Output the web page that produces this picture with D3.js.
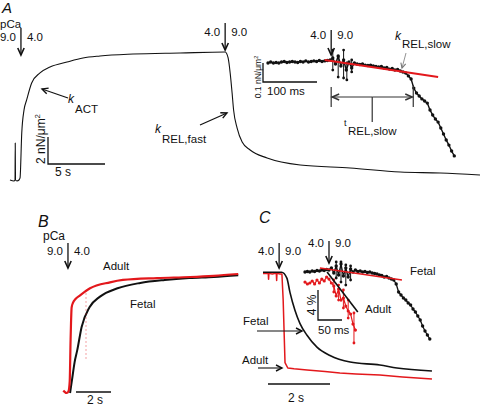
<!DOCTYPE html>
<html lang="en">
<head>
<meta charset="utf-8">
<title>Myofibril activation and relaxation</title>
<script src="https://cdn.jsdelivr.net/npm/d3@7"></script>
<style>
  body { margin: 0; background: #fff; }
  text { font-family: "Liberation Sans", Arial, sans-serif; fill: #111; }
</style>
</head>
<body>
<script>
// ---------- A: full activation / relaxation (time s, force nN/um2)
var aTime  = [0, 0.35, 0.44, 0.46, 0.48, 0.61, 0.79, 0.88, 1.03, 1.23, 1.46, 1.90, 2.63, 3.51, 5.0, 6.4, 7.89, 10.79, 14.91, 18.86,
              19.12, 19.3, 19.47, 19.6, 19.91, 20.35, 21.05, 22.54, 25.44, 29.82, 34.21, 37.72, 41.2];
var aForce = [0, -0.07, 0, 2.74, 0, -0.07, 0, 0.15, 3.48, 5.19, 5.93, 7.19, 7.93, 8.37, 8.74, 9.04, 9.19, 9.33, 9.41, 9.48,
              9.04, 7.93, 6.44, 5.19, 3.85, 2.81, 2.22, 1.63, 1.11, 0.89, 0.59, 0.52, 0.37];
var aSwitch = [0.96, 18.86];          // pCa 9.0 -> 4.0, then 4.0 -> 9.0

// ---------- A inset: start of relaxation, 5 ms samples, change in force (nN/um2)
var insADt = 5;
var insAForce = [0, 0.005, 0, 0.003, 0, 0.005, 0.008, 0.003, 0.005, 0.008, 0.005, 0.003, 0.008, 0.005, 0.011, 0.005,
                 0.008, 0.011, 0.008, 0.013, 0.008, 0.011, 0.013,
                 0.016, 0.026, -0.005, 0.037, -0.016, 0.016, -0.037, 0.005, -0.026, 0,
                 -0.005, -0.008, -0.005, -0.011, -0.013, -0.011, -0.016, -0.018, -0.021, -0.018, -0.026, -0.024,
                 -0.032, -0.029, -0.037, -0.034, -0.042,
                 -0.047, -0.053, -0.068, -0.084, -0.132, -0.158, -0.174, -0.189, -0.2, -0.211, -0.247, -0.274,
                 -0.295, -0.311, -0.342, -0.374, -0.405, -0.432, -0.463, -0.489];
var insAErrT  = [120, 130, 140, 146, 155];
var insAErrLo = [-0.037, -0.074, -0.079, -0.089, -0.047];
var insAErrHi = [0.068, 0.032, 0.068, 0, 0.016];
var insAFitT = [105, 315];
var insAFitF = [0.016, -0.074];
var insASwitch = 117;
var insATrel = [117, 269];            // t REL,slow bracket (ms)

// ---------- B: activation, normalised force
var bAdultT = [-0.1, 0.1, 0.2, 0.27, 0.32, 0.38, 0.46, 0.6, 0.86, 1.43, 2.57, 3.31, 5.26, 7.14, 8.5, 9.9];
var bAdultF = [0.02, 0, 0.015, 0.1, 0.45, 0.72, 0.76, 0.79, 0.82, 0.88, 0.93, 0.95, 0.966, 0.975, 0.985, 1.0];
var bFetalT = [0.29, 0.4, 0.55, 0.7, 0.95, 1.4, 2.0, 3.0, 4.3, 5.7, 7.1, 8.5, 9.9];
var bFetalF = [0, 0.11, 0.26, 0.36, 0.555, 0.72, 0.81, 0.88, 0.925, 0.95, 0.966, 0.975, 0.99];
var bSwitch = 0.17;
var bAdultMarkT = 1.2, bAdultMarkF = [0.29, 0.85];

// ---------- C: relaxation, normalised force
var cAdultT = [0, 0.1, 0.17, 0.18, 0.19, 0.3, 0.4, 0.43, 0.44, 0.45, 0.55, 0.61, 0.65, 0.71, 0.8, 1.0, 1.42, 2.0, 2.48, 3.0, 3.77, 4.5, 5.45];
var cAdultF = [0.98, 0.98, 0.98, 0.93, 0.98, 0.975, 0.98, 0.98, 0.92, 0.98, 0.975, 0.975, 0.76, 0.23, 0.185, 0.178, 0.168,
               0.155, 0.143, 0.135, 0.126, 0.11, 0.092];
var cFetalT = [0, 0.3, 0.6, 0.77, 0.87, 1.03, 1.19, 1.42, 1.74, 2.16, 2.81, 3.77, 4.32, 5.45];
var cFetalF = [0.99, 0.99, 0.99, 0.94, 0.82, 0.67, 0.56, 0.46, 0.36, 0.29, 0.235, 0.21, 0.185, 0.16];
var cSwitch = 0.52;

// ---------- C inset: 5 ms samples, force in % of maximum
var insCDt = 5;
var insCFetal = [99.87, 99.93, 99.87, 100, 99.93, 100.07, 100, 100.13, 100.07, 100.2, 100.13, 100.4, 99.73, 100.67, 99.47,
                 100.93, 99.33, 100.4, 99.2, 100.27, 99.87, 100.13, 99.93, 100, 99.87, 99.93, 99.8, 99.87, 99.73, 99.67,
                 99.6, 99.47, 99.4, 99.2, 99.27, 99.07, 98.93, 98.8, 98.27, 97.2, 96.8, 96.4, 96.13, 95.73, 95.47, 94.93,
                 94.53, 94.0, 93.47, 92.67, 92.0, 91.47, 90.93];
var insCAdult = [98.53, 98.27, 98.4, 98.67, 98.27, 98.8, 98.4, 98.93, 98.67, 99.2, 98.93, 98.4, 98.0, 96.67, 97.6, 96.13,
                 96.4, 95.33, 94.67, 94.27, 92.93, 92.13];
var insCAdultErrT  = [60, 70, 80, 90, 102];
var insCAdultErrLo = [97.2, 96.13, 95.07, 93.73, 90.4];
var insCAdultErrHi = [98.8, 98.13, 97.47, 96.13, 94.4];
var insCFetalErrT  = [65, 75, 85, 95];
var insCFetalErrLo = [99.07, 98.53, 98.13, 98.8];
var insCFetalErrHi = [101.2, 101.2, 100.8, 100.67];
var insCFetalFitT = [31, 202], insCFetalFitF = [100.4, 98.8];
var insCAdultFitT = [46, 110], insCAdultFitF = [99.87, 94.53];
var insCSwitch = 50;

var RED = "#e3181c", BLACK = "#111";

var svg = d3.select("body").append("svg")
            .attr("width", 480)
            .attr("height", 406);
svg.append("rect").attr("width", 480).attr("height", 406).attr("fill", "#fff");

// scales
var xA = d3.scaleLinear().domain([0, 41.2]).range([10, 480]);
var yA = d3.scaleLinear().domain([0, 10]).range([180, 45]);
var xIA = d3.scaleLinear().domain([0, 350]).range([268, 457]);
var yIA = d3.scaleLinear().domain([-0.5, 0.1]).range([158, 44]);
var xB = d3.scaleLinear().domain([0, 10]).range([65, 240]);
var yB = d3.scaleLinear().domain([0, 1]).range([393, 274]);
var xC = d3.scaleLinear().domain([0, 5.5]).range([263, 433.5]);
var yC = d3.scaleLinear().domain([0, 1]).range([390, 271]);
var xIC = d3.scaleLinear().domain([0, 260]).range([305, 429.8]);
var yIC = d3.scaleLinear().domain([90, 101]).range([346, 263.5]);

function zip(t, f) { return t.map(function (d, i) { return [d, f[i]]; }); }
function sampled(f, dt) { return f.map(function (d, i) { return [i * dt, d]; }); }

function trace(x, y, data, color, width, curve) {
  var line = d3.line()
               .x(function (d) { return x(d[0]); })
               .y(function (d) { return y(d[1]); })
               .curve(curve || d3.curveMonotoneX);
  svg.append("path")
     .attr("d", line(data))
     .attr("fill", "none")
     .attr("stroke", color)
     .attr("stroke-width", width)
     .attr("stroke-linejoin", "round");
}

function dots(x, y, data, color, r) {
  svg.append("g").selectAll("circle")
     .data(data)
     .enter()
     .append("circle")
     .attr("cx", function (d) { return x(d[0]); })
     .attr("cy", function (d) { return y(d[1]); })
     .attr("r", r)
     .attr("fill", color);
}

function errorBars(x, y, t, lo, hi, color) {
  var g = svg.append("g");
  t.forEach(function (d, i) {
    g.append("line")
     .attr("x1", x(d)).attr("x2", x(d))
     .attr("y1", y(lo[i])).attr("y2", y(hi[i]))
     .attr("stroke", color).attr("stroke-width", 1);
    [lo[i], hi[i]].forEach(function (v) {
      g.append("circle").attr("cx", x(d)).attr("cy", y(v)).attr("r", 1.4).attr("fill", color);
    });
  });
}

function arrow(x1, y1, x2, y2, o) {
  o = o || {};
  var len = o.head || 6, half = o.half || 3, w = o.width || 1.1, col = o.color || BLACK;
  var ang = Math.atan2(y2 - y1, x2 - x1);
  var ax = x2 - len * Math.cos(ang), ay = y2 - len * Math.sin(ang);
  var px = -Math.sin(ang) * half, py = Math.cos(ang) * half;
  svg.append("line")
     .attr("x1", x1).attr("y1", y1).attr("x2", x2).attr("y2", y2)
     .attr("stroke", col).attr("stroke-width", w);
  svg.append("path")
     .attr("d", "M" + (ax + px) + "," + (ay + py) + "L" + x2 + "," + y2 + "L" + (ax - px) + "," + (ay - py))
     .attr("fill", "none").attr("stroke", col).attr("stroke-width", o.headWidth || w + 0.3);
}

function txt(x, y, s, o) {
  o = o || {};
  return svg.append("text")
            .attr("x", x).attr("y", y)
            .attr("font-size", (o.size || 11.5) + "px")
            .attr("font-style", o.italic ? "italic" : null)
            .attr("text-anchor", o.anchor || "start")
            .text(s);
}

// solution switch: down arrow with old / new pCa either side
function pcaSwitch(x, yTop, yTip, base, left, right) {
  arrow(x, yTop, x, yTip, { head: 7, half: 3.2, width: 1.3, headWidth: 1.6 });
  txt(x - 5, base, left, { anchor: "end" });
  txt(x + 6, base, right);
}

function subLabel(x, y, main, sub, drop, italic) {
  txt(x, y, main, { italic: italic !== false, size: 12 });
  txt(x + 7, y + drop, sub);
}

function scaleBar(x0, y0, w, h, col) {
  var d = h ? "M" + x0 + "," + (y0 - h) + "V" + y0 + "H" + (x0 + w) : "M" + x0 + "," + y0 + "H" + (x0 + w);
  svg.append("path").attr("d", d).attr("fill", "none")
     .attr("stroke", col || BLACK).attr("stroke-width", 1.3);
}

function rotText(x, y, parts, size) {
  var t = svg.append("text")
             .attr("transform", "translate(" + x + "," + y + ") rotate(-90)")
             .attr("text-anchor", "middle")
             .attr("font-size", size + "px");
  t.append("tspan").text(parts[0]);
  if (parts[1]) t.append("tspan").attr("dy", -size * 0.4).attr("font-size", (size * 0.65) + "px").text(parts[1]);
}

// ================= Panel A =================
txt(2, 12.5, "A", { italic: true, size: 15 });
txt(0, 28, "pCa", { size: 11.5 });
pcaSwitch(xA(aSwitch[0]), 28, 55, 41, "9.0", "4.0");
pcaSwitch(xA(aSwitch[1]), 23, 50, 36, "4.0", "9.0");
trace(xA, yA, zip(aTime, aForce), BLACK, 1.1);

// scale bar 5 s x 2 nN/um2
scaleBar(48, 164, xA(5) - xA(0), yA(0) - yA(2));
rotText(45, 139, ["2 nN/\u03bcm", "2"], 12);
txt(55, 176, "5 s", { size: 12 });

arrow(68, 98, 42, 89);
subLabel(68, 103, "k", "ACT", 10);
arrow(200, 125, 227, 113);
subLabel(155, 133, "k", "REL,fast", 10);

// inset A
pcaSwitch(xIA(insASwitch), 30, 55, 39, "4.0", "9.0");
var insAData = sampled(insAForce, insADt);
trace(xIA, yIA, insAData, BLACK, 1.4, d3.curveLinear);
dots(xIA, yIA, insAData, BLACK, 1.7);
errorBars(xIA, yIA, insAErrT, insAErrLo, insAErrHi, BLACK);
trace(xIA, yIA, zip(insAFitT, insAFitF), RED, 2, d3.curveLinear);

scaleBar(263, 82, xIA(100) - xIA(0), yIA(0) - yIA(0.1));
txt(267, 95, "100 ms", { size: 11.5 });
rotText(261, 77, ["0.1 nN/\u03bcm", "2"], 8.5);

subLabel(395, 40, "k", "REL,slow", 8);
arrow(406, 53, 402, 68, { color: "#777", width: 0.8, head: 5, half: 2.5 });

// t REL,slow bracket
var bx1 = xIA(insATrel[0]), bx2 = xIA(insATrel[1]), bmid = (bx1 + bx2) / 2;
svg.append("path").attr("d", "M" + bx1 + ",87V107M" + bx2 + ",85V107M" + bmid + ",97V122")
   .attr("stroke", "#333").attr("stroke-width", 1.2).attr("fill", "none");
arrow(bmid, 97, bx1 + 1, 97, { color: "#333", width: 1.2, head: 7, half: 3 });
arrow(bmid, 97, bx2 - 1, 97, { color: "#333", width: 1.2, head: 7, half: 3 });
txt(344, 126, "t", { size: 9 });
txt(348, 135, "REL,slow", { size: 11.5 });

// ================= Panel B =================
txt(38, 227, "B", { italic: true, size: 16 });
txt(43, 240, "pCa", { size: 12 });
pcaSwitch(xB(bSwitch), 243, 268, 255, "9.0", "4.0");
trace(xB, yB, zip(bFetalT, bFetalF), BLACK, 2);
trace(xB, yB, zip(bAdultT, bAdultF), RED, 2.2);
svg.append("line")
   .attr("x1", xB(bAdultMarkT)).attr("x2", xB(bAdultMarkT))
   .attr("y1", yB(bAdultMarkF[0])).attr("y2", yB(bAdultMarkF[1]))
   .attr("stroke", RED).attr("stroke-width", 0.8).attr("stroke-dasharray", "1,3");
txt(103, 270, "Adult");
txt(130, 308, "Fetal");
scaleBar(76, 392, xB(2) - xB(0), 0);
txt(87, 404, "2 s", { size: 12 });

// ================= Panel C =================
txt(259, 223, "C", { italic: true, size: 16 });
pcaSwitch(xC(cSwitch), 243, 268, 255, "4.0", "9.0");
trace(xC, yC, zip(cAdultT, cAdultF), RED, 1.5, d3.curveLinear);
trace(xC, yC, zip(cFetalT, cFetalF), BLACK, 1.6);
txt(243, 325, "Fetal");
arrow(257, 331, 302, 331);
txt(242, 364, "Adult");
arrow(258, 368, 282, 368);
scaleBar(268, 384, xC(2) - xC(0), 0);
txt(288, 402, "2 s", { size: 12 });

// inset C
pcaSwitch(xIC(insCSwitch), 241, 263, 247, "4.0", "9.0");
var insCAdultData = sampled(insCAdult, insCDt);
trace(xIC, yIC, insCAdultData, RED, 1.2, d3.curveLinear);
dots(xIC, yIC, insCAdultData, RED, 1.6);
errorBars(xIC, yIC, insCAdultErrT, insCAdultErrLo, insCAdultErrHi, RED);
var insCFetalData = sampled(insCFetal, insCDt);
trace(xIC, yIC, insCFetalData, BLACK, 1.3, d3.curveLinear);
dots(xIC, yIC, insCFetalData, BLACK, 1.7);
errorBars(xIC, yIC, insCFetalErrT, insCFetalErrLo, insCFetalErrHi, BLACK);
trace(xIC, yIC, zip(insCFetalFitT, insCFetalFitF), RED, 1.6, d3.curveLinear);
trace(xIC, yIC, zip(insCAdultFitT, insCAdultFitF), BLACK, 1.6, d3.curveLinear);
txt(410, 275, "Fetal");
txt(365, 313, "Adult");
scaleBar(318, 320, xIC(50) - xIC(0), yIC(96) - yIC(100));
rotText(316, 305, ["4 %"], 12);
txt(318, 334, "50 ms");
</script>
</body>
</html>
